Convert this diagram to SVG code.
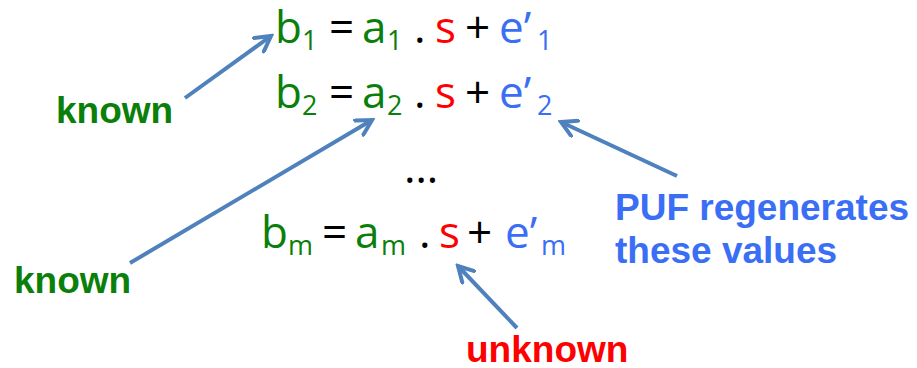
<svg xmlns="http://www.w3.org/2000/svg" width="917" height="368" viewBox="0 0 917 368">
<defs>
<style>
.eq{font-family:"Open Sans","Noto Sans",sans-serif;font-size:44px}
.sub{font-size:27px}
.lbl{font-family:"Liberation Sans",Arial,sans-serif;font-weight:bold;font-size:37px}
.g{fill:#0A800A}.r{fill:#FF0000}.b{fill:#3A6EF5}.k{fill:#000}
.arr{stroke:#4F81BD;stroke-width:4;fill:none;marker-end:url(#ah)}
</style>
<marker id="ah" viewBox="0 0 12 12" refX="10" refY="6" markerWidth="5" markerHeight="5" orient="auto" markerUnits="strokeWidth">
<path d="M1,1 L10,6 L1,11" fill="none" stroke="#4F81BD" stroke-width="2.4" stroke-linecap="round" stroke-linejoin="miter"/>
</marker>
</defs>
<rect width="917" height="368" fill="#fff"/>
<g id="eq1">
<text class="eq"><tspan x="275" y="43" class="g">b</tspan><tspan x="302" y="50" class="g sub">1</tspan><tspan x="329" y="43" class="k">=</tspan><tspan x="362" y="43" class="g">a</tspan><tspan x="387" y="50" class="g sub">1</tspan><tspan x="414" y="43" class="k">.</tspan><tspan x="435" y="43" class="r">s</tspan><tspan x="465" y="43" class="k">+</tspan><tspan x="499" y="43" class="b">e’</tspan><tspan x="537" y="50" class="b sub">1</tspan></text>
</g>
<g id="eq2">
<text class="eq"><tspan x="275" y="108" class="g">b</tspan><tspan x="302" y="115" class="g sub">2</tspan><tspan x="329" y="108" class="k">=</tspan><tspan x="362" y="108" class="g">a</tspan><tspan x="387" y="115" class="g sub">2</tspan><tspan x="414" y="108" class="k">.</tspan><tspan x="435" y="108" class="r">s</tspan><tspan x="465" y="108" class="k">+</tspan><tspan x="499" y="108" class="b">e’</tspan><tspan x="537" y="115" class="b sub">2</tspan></text>
</g>
<g id="dots"><text class="eq k" x="404" y="183">…</text></g>
<g id="eqm">
<text class="eq"><tspan x="261" y="248" class="g">b</tspan><tspan x="288" y="255" class="g sub">m</tspan><tspan x="322" y="248" class="k">=</tspan><tspan x="355" y="248" class="g">a</tspan><tspan x="381" y="255" class="g sub">m</tspan><tspan x="419" y="248" class="k">.</tspan><tspan x="439" y="248" class="r">s</tspan><tspan x="467" y="248" class="k">+</tspan><tspan x="505" y="248" class="b">e’</tspan><tspan x="541" y="255" class="b sub">m</tspan></text>
</g>
<g id="known1"><text x="56" y="123" class="lbl g">known</text></g>
<g id="known2"><text x="14" y="293" class="lbl g">known</text></g>
<g id="puf"><text class="lbl b"><tspan x="615" y="220">PUF regenerates</tspan><tspan x="615" y="263">these values</tspan></text></g>
<g id="unknown"><text x="466" y="362" class="lbl r">unknown</text></g>
<g id="connectors">
<line class="arr" x1="185" y1="98" x2="271" y2="36"/>
<line class="arr" x1="130" y1="263" x2="372" y2="120"/>
<line class="arr" x1="677" y1="176" x2="561" y2="122"/>
<line class="arr" x1="517" y1="328" x2="458" y2="266"/>
</g>
</svg>
